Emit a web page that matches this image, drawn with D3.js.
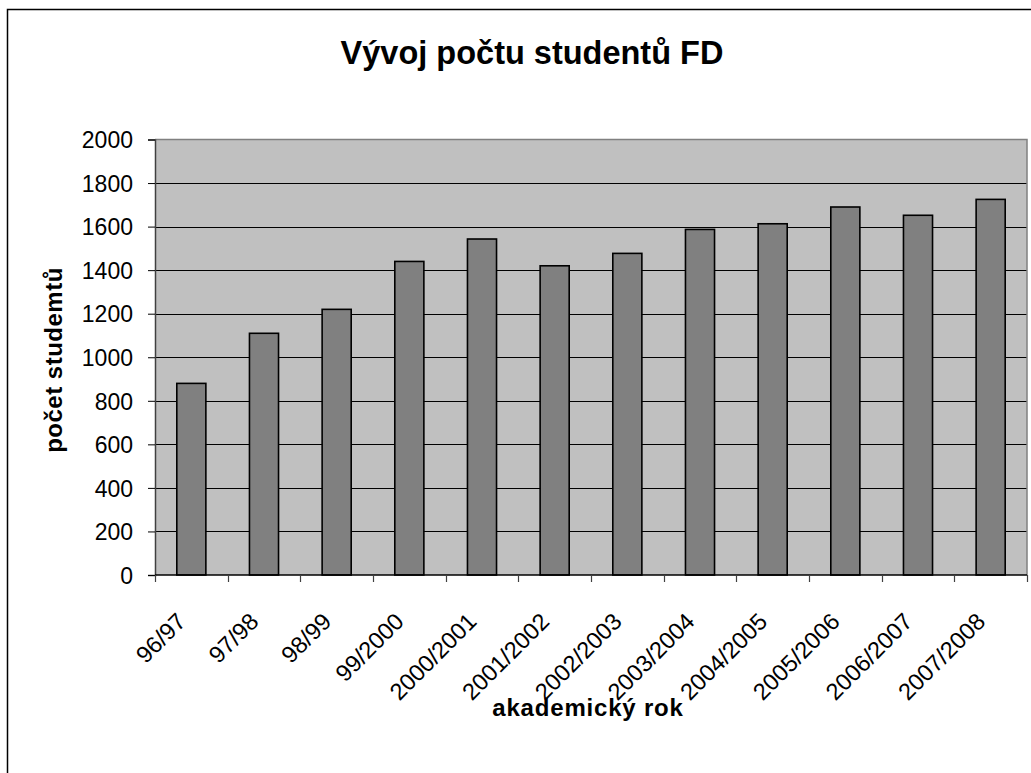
<!DOCTYPE html>
<html>
<head>
<meta charset="utf-8">
<script src="https://cdn.jsdelivr.net/npm/d3@7"></script>
<style>
  html, body { margin: 0; padding: 0; background: #fff; }
  svg { display: block; font-family: "Liberation Sans", Arial, sans-serif; }
</style>
</head>
<body>
<svg id="chart" width="1031" height="773"></svg>
<script>
// Academic years and student counts
const years = ["96/97", "97/98", "98/99", "99/2000", "2000/2001", "2001/2002",
               "2002/2003", "2003/2004", "2004/2005", "2005/2006", "2006/2007", "2007/2008"];
const students = [880, 1110, 1220, 1440, 1543, 1420, 1477, 1587, 1613, 1690, 1652, 1725];
const yTicks = [0, 200, 400, 600, 800, 1000, 1200, 1400, 1600, 1800, 2000];

const titleText = "Vývoj počtu studentů FD";
const xTitle = "akademický rok";
const yTitle = "počet studemtů";

const svg = d3.select("#chart");

// outer chart frame (right and bottom edges run past the canvas)
svg.append("rect")
  .attr("x", 7.5).attr("y", 9.5)
  .attr("width", 1100).attr("height", 900)
  .attr("fill", "#fff").attr("stroke", "#000").attr("stroke-width", 1.5);

const plot = { left: 155, right: 1027, top: 139.5, bottom: 575 };

const x = d3.scaleBand()
  .domain(years)
  .range([plot.left, plot.right])
  .paddingInner(0.6)
  .paddingOuter(0.3);

const y = d3.scaleLinear()
  .domain([0, 2000])
  .range([plot.bottom, plot.top]);

// plot background
svg.append("rect")
  .attr("x", plot.left).attr("y", plot.top)
  .attr("width", plot.right - plot.left).attr("height", plot.bottom - plot.top)
  .attr("fill", "#c0c0c0");

// horizontal gridlines
svg.append("g")
  .selectAll("line")
  .data(yTicks.filter(d => d > 0 && d < 2000))
  .join("line")
  .attr("x1", plot.left).attr("x2", plot.right)
  .attr("y1", d => Math.round(y(d)) + 0.5).attr("y2", d => Math.round(y(d)) + 0.5)
  .attr("stroke", "#000").attr("stroke-width", 1);

// plot frame: top and right edges
svg.append("path")
  .attr("d", `M${plot.left},${plot.top} H${plot.right} V${plot.bottom}`)
  .attr("fill", "none").attr("stroke", "#808080").attr("stroke-width", 1.5);

// bars
svg.append("g")
  .selectAll("rect")
  .data(students)
  .join("rect")
  .attr("x", (d, i) => x(years[i]))
  .attr("y", d => y(d))
  .attr("width", x.bandwidth())
  .attr("height", d => y(0) - y(d))
  .attr("fill", "#808080")
  .attr("stroke", "#000")
  .attr("stroke-width", 1.6);

// y axis
const yAxis = svg.append("g")
  .attr("transform", `translate(${plot.left},0)`)
  .call(d3.axisLeft(y).tickValues(yTicks).tickSize(7).tickPadding(15).tickFormat(d3.format("d")));
yAxis.select(".domain").attr("stroke", "#404040").attr("stroke-width", 1.5);
yAxis.selectAll(".tick line").attr("stroke", "#000");
yAxis.selectAll(".tick text")
  .attr("font-family", "Liberation Sans, Arial, sans-serif")
  .attr("font-size", 23)
  .attr("dy", "0.36em")
  .attr("fill", "#000");

// x axis: ticks at category boundaries
const xBase = svg.append("g");
xBase.append("line")
  .attr("x1", plot.left).attr("x2", plot.right)
  .attr("y1", plot.bottom).attr("y2", plot.bottom)
  .attr("stroke", "#000").attr("stroke-width", 1.5);
const step = x.step();
const boundaries = years.map((d, i) => x(d) - x.paddingOuter() * step).concat([plot.right]);
xBase.selectAll(".bt")
  .data(boundaries)
  .join("line")
  .attr("class", "bt")
  .attr("x1", d => Math.round(d) + 0.5).attr("x2", d => Math.round(d) + 0.5)
  .attr("y1", plot.bottom).attr("y2", plot.bottom + 7)
  .attr("stroke", "#404040").attr("stroke-width", 1.2);

// rotated category labels
svg.append("g")
  .selectAll("text")
  .data(years)
  .join("text")
  .attr("transform", d => `translate(${x(d) + x.bandwidth() / 2 - 4},623) rotate(-45)`)
  .attr("text-anchor", "end")
  .attr("font-size", 23.5)
  .attr("fill", "#000")
  .text(d => d);

// title
svg.append("text")
  .attr("x", 532).attr("y", 64)
  .attr("text-anchor", "middle")
  .attr("font-size", 32.5)
  .attr("font-weight", "bold")
  .attr("fill", "#000")
  .text(titleText);

// axis titles
svg.append("text")
  .attr("x", 588).attr("y", 716)
  .attr("text-anchor", "middle")
  .attr("font-size", 24)
  .attr("font-weight", "bold")
  .attr("letter-spacing", "0.8px")
  .attr("fill", "#000")
  .text(xTitle);

svg.append("text")
  .attr("transform", "translate(62,360) rotate(-90)")
  .attr("text-anchor", "middle")
  .attr("font-size", 24)
  .attr("font-weight", "bold")
  .attr("letter-spacing", "0.5px")
  .attr("fill", "#000")
  .text(yTitle);
</script>
</body>
</html>
